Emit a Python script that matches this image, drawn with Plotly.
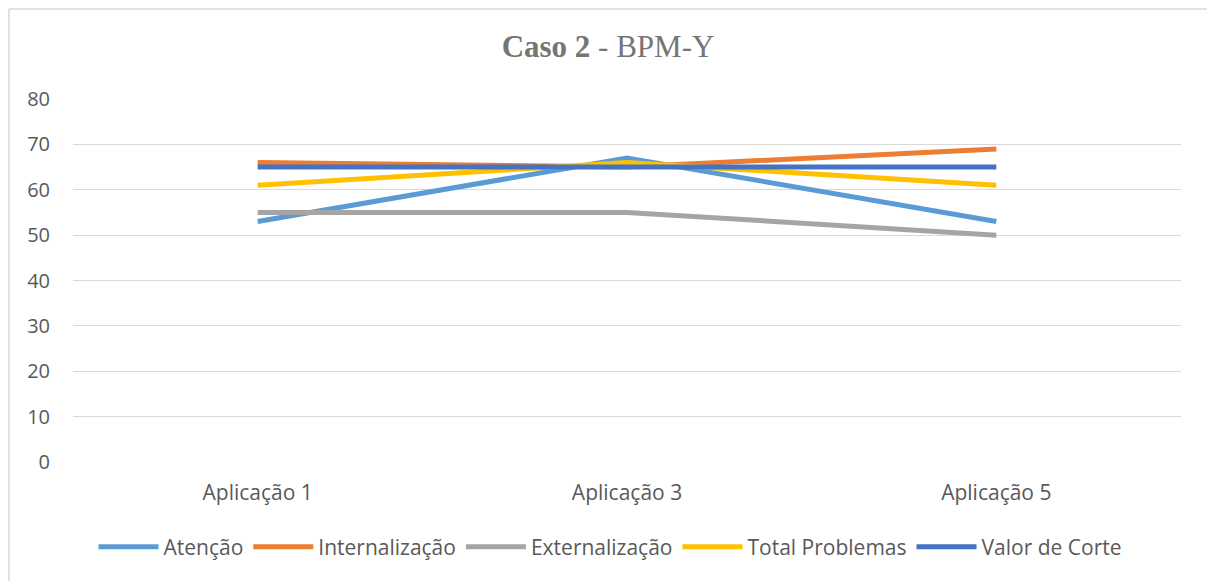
import plotly.graph_objects as go

categories = ["Aplicação 1", "Aplicação 3", "Aplicação 5"]
atencao = [53, 67, 53]
internalizacao = [66, 65, 69]
externalizacao = [55, 55, 50]
total_problemas = [61, 66, 61]
valor_corte = [65, 65, 65]

series = [
    ("Atenção", atencao, "#5B9BD5"),
    ("Internalização", internalizacao, "#ED7D31"),
    ("Externalização", externalizacao, "#A5A5A5"),
    ("Total Problemas", total_problemas, "#FFC000"),
    ("Valor de Corte", valor_corte, "#4472C4"),
]

fig = go.Figure()
for name, vals, color in series:
    fig.add_trace(go.Scatter(
        x=categories, y=vals, name=name, mode="lines",
        line=dict(color=color, width=5),
    ))

W, H = 1207, 581
L, R, T, B = 73, 1181, 99, 462
pw, ph = R - L, B - T

def px(x):
    return (x - L) / pw

def py(y):
    return (B - y) / ph

font_fam = "Open Sans"
border = dict(color="#D9D9D9", width=1.5)
fig.update_layout(
    width=W, height=H,
    margin=dict(l=L, r=W - R, t=T, b=H - B),
    plot_bgcolor="white", paper_bgcolor="white",
    showlegend=True,
    legend=dict(orientation="h", x=px(610), xanchor="center", y=py(547), yanchor="middle",
                font=dict(family=font_fam, size=21, color="#595959"),
                itemwidth=60, tracegroupgap=0),
    title=dict(text="<b>Caso 2</b> - BPM-Y", x=px(608), xanchor="center", xref="paper",
               y=1 - 46 / H, yanchor="middle",
               font=dict(family="Liberation Serif", size=31, color="#757575")),
    xaxis=dict(type="category", range=[-0.5, 2.5], showgrid=False, showline=False,
               zeroline=False, ticks="", ticklabelstandoff=16,
               tickfont=dict(family=font_fam, size=21, color="#595959")),
    yaxis=dict(range=[0, 80], dtick=10, showgrid=True, gridcolor="#D9D9D9", gridwidth=1.3,
               zeroline=False, showline=False, ticks="", ticklabelstandoff=22,
               tickfont=dict(family=font_fam, size=20, color="#595959")),
    shapes=[
        dict(type="line", xref="paper", yref="paper", x0=px(9), x1=px(1207), y0=py(9), y1=py(9),
             line=border, layer="below"),
        dict(type="line", xref="paper", yref="paper", x0=px(9), x1=px(9), y0=py(9), y1=py(581),
             line=border, layer="below"),
    ],
)

fig.write_html("out.html", config={"displayModeBar": False},
               post_script="document.body.style.margin='0';document.body.style.overflow='hidden';")
